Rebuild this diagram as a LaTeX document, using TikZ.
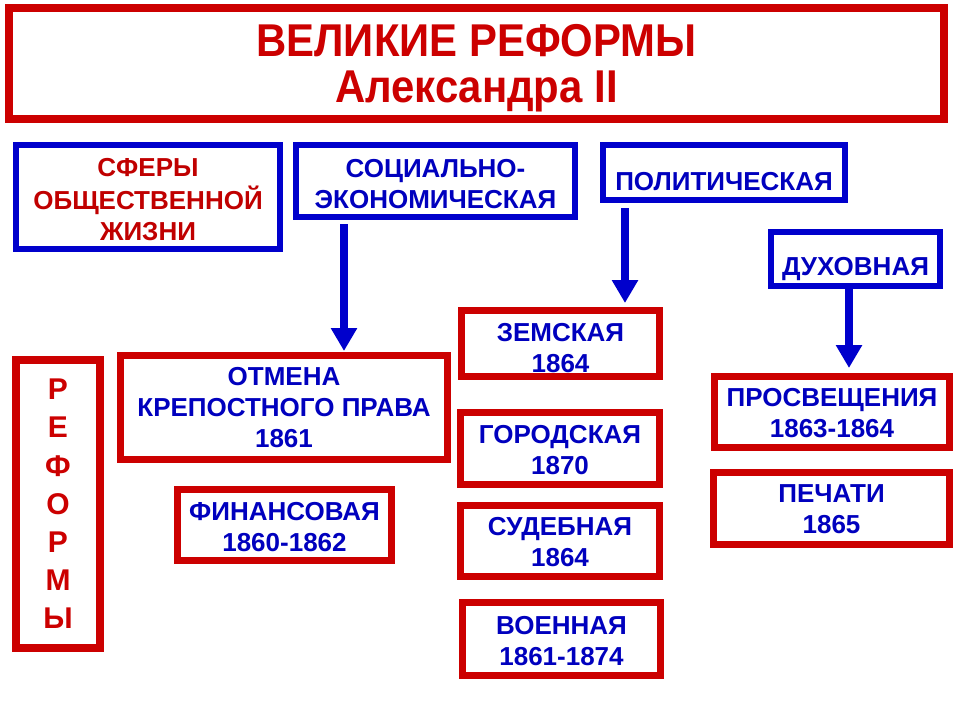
\documentclass[tikz,border=0pt]{standalone}
\usepackage{fontspec}
\setmainfont{Liberation Sans}
\newfontfamily\titlefont{Liberation Sans}[FakeStretch = 0.91]
\usetikzlibrary{arrows.meta}

\definecolor{reformred}{RGB}{204,0,0}
\definecolor{darkred}{RGB}{192,0,0}
\definecolor{sphereblue}{RGB}{0,0,204}
\definecolor{textblue}{RGB}{0,0,190}

% lines of a box, set lower by #1
\newcommand{\sunktext}[2]{\raisebox{-#1}[\height][\depth]{\begin{tabular}{@{}c@{}}#2\end{tabular}}}

\begin{document}
\begin{tikzpicture}[x = 1pt, y = -1pt,
    box/.style = {draw, inner sep = 0, align = center,
                  font = \bfseries\fontsize{26}{31}\selectfont},
    spherebox/.style = {box, sphereblue, line width = 6pt, text = textblue},
    reformbox/.style = {box, reformred, line width = 7pt, text = textblue},
    arr/.style = {sphereblue, line width = 8pt,
                  -{Triangle[width = 25pt, length = 23pt]}}]
    \useasboundingbox [fill = white] (0, 0) rectangle (960, 720);

    % title
    \node [box, reformred, line width = 8pt, text = reformred,
           font = \titlefont\bfseries\fontsize{46}{46.5}\selectfont,
           minimum width = 935pt, minimum height = 111pt]
        (title) at (476.5, 63.5) {\sunktext{6.5pt}{ВЕЛИКИЕ РЕФОРМЫ\\Александра II}};

    % spheres
    \node [spherebox, text = darkred, minimum width = 264pt, minimum height = 104pt]
        (sphere) at (148, 197) {\sunktext{5.3pt}{СФЕРЫ\\ОБЩЕСТВЕННОЙ\\ЖИЗНИ}};
    \node [spherebox, minimum width = 279pt, minimum height = 72pt]
        (socec) at (435.5, 181) {\sunktext{5.6pt}{СОЦИАЛЬНО-\\ЭКОНОМИЧЕСКАЯ}};
    \node [spherebox, minimum width = 242pt, minimum height = 55pt]
        (polit) at (724, 172.5) {\sunktext{11.3pt}{ПОЛИТИЧЕСКАЯ}};
    \node [spherebox, minimum width = 169pt, minimum height = 54pt]
        (spirit) at (855.5, 259) {\sunktext{9.8pt}{ДУХОВНАЯ}};

    % reforms
    \node [reformbox, line width = 8pt, text = reformred,
           font = \bfseries\fontsize{30}{38.2}\selectfont,
           minimum width = 84pt, minimum height = 288pt]
        (reforms) at (58, 504) {Р\\Е\\Ф\\О\\Р\\М\\Ы};

    \node [reformbox, minimum width = 327pt, minimum height = 104pt]
        (serf) at (284, 407.5) {\sunktext{3pt}{ОТМЕНА\\КРЕПОСТНОГО ПРАВА\\1861}};
    \node [reformbox, minimum width = 214pt, minimum height = 71pt]
        (finance) at (284.5, 525) {\sunktext{4.5pt}{ФИНАНСОВАЯ\\1860-1862}};

    \node [reformbox, minimum width = 198pt, minimum height = 66pt]
        (zemstvo) at (560.5, 343.5) {\sunktext{7.3pt}{ЗЕМСКАЯ\\1864}};
    \node [reformbox, minimum width = 199pt, minimum height = 72pt]
        (city) at (560, 448.5) {\sunktext{4pt}{ГОРОДСКАЯ\\1870}};
    \node [reformbox, minimum width = 199pt, minimum height = 71pt]
        (court) at (560, 541) {\sunktext{3.5pt}{СУДЕБНАЯ\\1864}};
    \node [reformbox, minimum width = 198pt, minimum height = 73pt]
        (army) at (561.5, 639) {\sunktext{4.8pt}{ВОЕННАЯ\\1861-1874}};

    \node [reformbox, minimum width = 235pt, minimum height = 71pt]
        (school) at (832, 412) {\sunktext{4pt}{ПРОСВЕЩЕНИЯ\\1863-1864}};
    \node [reformbox, minimum width = 236pt, minimum height = 72pt]
        (press) at (831.5, 508.5) {\sunktext{3.7pt}{ПЕЧАТИ\\1865}};

    % arrows
    \draw [arr] ([xshift = -91.5pt, yshift = -4pt]socec.south) -- ([xshift = 60pt, yshift = 1pt]serf.north);
    \draw [arr] ([xshift = -99pt, yshift = -5pt]polit.south) -- ([xshift = 64.5pt, yshift = 4pt]zemstvo.north);
    \draw [arr] ([xshift = -6.5pt]spirit.south) -- ([xshift = 17pt, yshift = 5pt]school.north);
\end{tikzpicture}
\end{document}
